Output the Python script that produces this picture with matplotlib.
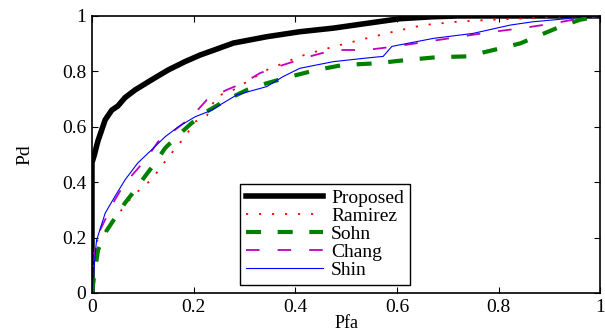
import numpy as np
import matplotlib
matplotlib.use('Agg')
import matplotlib.pyplot as plt

plt.rcParams['font.family'] = ['Liberation Serif', 'DejaVu Serif']

# ROC curves (Pfa, Pd)
prop_x = [0, 0, 0.005, 0.009, 0.012, 0.026, 0.039, 0.051, 0.065, 0.085, 0.117, 0.15, 0.183, 0.213, 0.245, 0.278, 0.344, 0.409, 0.475, 0.54, 0.606, 0.67, 0.72, 1.0]
prop_y = [0, 0.47, 0.50, 0.53, 0.55, 0.625, 0.66, 0.675, 0.705, 0.733, 0.769, 0.805, 0.835, 0.859, 0.88, 0.902, 0.925, 0.943, 0.956, 0.973, 0.99, 0.997, 1.0, 1.0]

ram_x = [0, 0.003, 0.006, 0.016, 0.035, 0.068, 0.1, 0.117, 0.15, 0.183, 0.203, 0.226, 0.245, 0.278, 0.311, 0.344, 0.376, 0.409, 0.442, 0.488, 0.54, 0.593, 0.652, 0.718, 0.783, 0.849, 0.915, 0.95, 1.0]
ram_y = [0, 0.12, 0.18, 0.2, 0.24, 0.325, 0.384, 0.408, 0.49, 0.564, 0.618, 0.64, 0.709, 0.733, 0.769, 0.805, 0.829, 0.854, 0.872, 0.895, 0.919, 0.943, 0.967, 0.979, 0.986, 0.991, 0.997, 1.0, 1.0]

sohn_x = [0, 0.006, 0.012, 0.026, 0.045, 0.065, 0.085, 0.104, 0.124, 0.144, 0.17, 0.196, 0.226, 0.265, 0.305, 0.344, 0.39, 0.442, 0.494, 0.56, 0.619, 0.678, 0.737, 0.79, 0.843, 0.882, 0.921, 0.96, 1.0]
sohn_y = [0, 0.083, 0.155, 0.217, 0.27, 0.325, 0.372, 0.42, 0.469, 0.523, 0.57, 0.613, 0.655, 0.697, 0.733, 0.757, 0.781, 0.805, 0.823, 0.829, 0.841, 0.851, 0.854, 0.877, 0.901, 0.931, 0.961, 0.986, 1.0]

chang_x = [0, 0.006, 0.016, 0.045, 0.065, 0.088, 0.108, 0.13, 0.163, 0.196, 0.226, 0.265, 0.298, 0.331, 0.376, 0.429, 0.475, 0.54, 0.593, 0.659, 0.724, 0.79, 0.843, 0.908, 0.96, 1.0]
chang_y = [0, 0.15, 0.227, 0.336, 0.397, 0.444, 0.487, 0.546, 0.588, 0.636, 0.697, 0.733, 0.758, 0.794, 0.823, 0.854, 0.877, 0.877, 0.889, 0.907, 0.925, 0.943, 0.955, 0.973, 0.991, 1.0]

shin_x = [0, 0.006, 0.009, 0.026, 0.045, 0.065, 0.09, 0.117, 0.144, 0.17, 0.203, 0.236, 0.252, 0.285, 0.344, 0.376, 0.409, 0.475, 0.54, 0.573, 0.59, 0.672, 0.75, 0.823, 0.868, 0.934, 0.97, 1.0]
shin_y = [0, 0.131, 0.19, 0.288, 0.348, 0.408, 0.469, 0.516, 0.564, 0.6, 0.636, 0.66, 0.679, 0.715, 0.745, 0.781, 0.811, 0.835, 0.848, 0.854, 0.89, 0.919, 0.937, 0.967, 0.979, 0.99, 1.0, 1.0]

ticks = [0, 0.2, 0.4, 0.6, 0.8, 1]
tick_labels = ['0', '0.2', '0.4', '0.6', '0.8', '1']

fig = plt.figure(figsize=(6.05, 3.32), dpi=100)
ax = fig.add_axes([0.152, 0.1175, 0.84, 0.8345])

ax.plot(prop_x, prop_y, color='black', lw=4.0, label='Proposed')
ax.plot(ram_x, ram_y, color='red', lw=1.3, dashes=(1.2, 6), label='Ramirez')
ax.plot(sohn_x, sohn_y, color='green', lw=3.0, dashes=(3.6, 4.0), label='Sohn')
ax.plot(chang_x, chang_y, color='m', lw=1.3, dashes=(7.5, 10), label='Chang')
ax.plot(shin_x, shin_y, color='blue', lw=0.8, label='Shin')

ax.set_xlim(0, 1)
ax.set_ylim(0, 1)
ax.set_xticks(ticks)
ax.set_xticklabels(tick_labels)
ax.set_yticks(ticks)
ax.set_yticklabels(tick_labels)
ax.tick_params(direction='in', top=True, right=True, labelsize=14, length=4, pad=4)
for s in ax.spines.values():
    s.set_linewidth(1.2)
ax.set_xlabel('Pfa', fontsize=13)
ax.xaxis.set_label_coords(0.5, -0.078)
ax.set_ylabel('Pd', fontsize=14)
ax.yaxis.set_label_coords(-0.115, 0.5)

leg = ax.legend(loc='lower left', bbox_to_anchor=(0.291, 0.029), fontsize=14,
                handlelength=4.0, borderpad=0.3, labelspacing=0.02,
                handletextpad=0.4, borderaxespad=0, fancybox=False, framealpha=1)
leg.get_frame().set_edgecolor('black')
leg.get_frame().set_linewidth(1.0)

plt.savefig('out.png', dpi=100)
